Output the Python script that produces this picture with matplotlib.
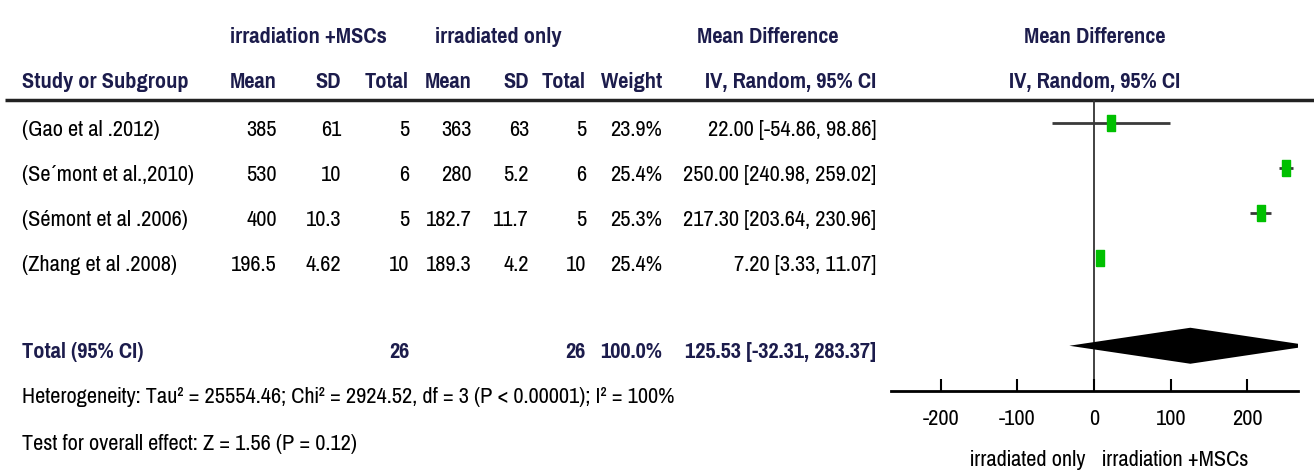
import numpy as np
import matplotlib
matplotlib.use('Agg')
from matplotlib import pyplot as plt
from matplotlib import font_manager

# narrow font if there is one, else a smaller Liberation Sans
try:
    font_manager.findfont('Pragati Narrow', fallback_to_default=False)
    plt.rcParams['font.family'] = ['Pragati Narrow', 'DejaVu Sans']
    fs = 17.5
except Exception:
    plt.rcParams['font.family'] = ['Liberation Sans', 'DejaVu Sans']
    fs = 12.8

studies = ["(Gao et al .2012)", "(Se\u00b4mont et al.,2010)", "(S\u00e9mont et al .2006)", "(Zhang et al .2008)"]
msc_mean = [385, 530, 400, 196.5]
msc_sd = [61, 10, 10.3, 4.62]
msc_n = [5, 6, 5, 10]
irr_mean = [363, 280, 182.7, 189.3]
irr_sd = [63, 5.2, 11.7, 4.2]
irr_n = [5, 6, 5, 10]
weights = [23.9, 25.4, 25.3, 25.4]
md = [22.00, 250.00, 217.30, 7.20]
ci_lo = [-54.86, 240.98, 203.64, 3.33]
ci_hi = [98.86, 259.02, 230.96, 11.07]

total_md, total_lo, total_hi = 125.53, -32.31, 283.37
total_n = [26, 26]
total_weight = "100.0%"
heterogeneity = "Heterogeneity: Tau\u00b2 = 25554.46; Chi\u00b2 = 2924.52, df = 3 (P < 0.00001); I\u00b2 = 100%"
overall = "Test for overall effect: Z = 1.56 (P = 0.12)"
xticks = [-200, -100, 0, 100, 200]

W, H = 1314, 475
head_color = '#1c1c4c'

fig = plt.figure(figsize=(W / 100, H / 100), dpi=100)

# text table, drawn in pixel coordinates
tab = fig.add_axes([0, 0, 1, 1])
tab.set_xlim(0, W)
tab.set_ylim(H, 0)
tab.axis('off')

row0, step = 123, 45
total_row = 4.95
def row_y(i):
    return row0 + step * i

# column right edges
cols = [277, 341, 409, 472, 529, 586, 662, 876]

# headers
hkw = dict(fontsize=fs, fontweight='bold', color=head_color, va='baseline')
tab.text(308, 43, "irradiation +MSCs", ha='center', **hkw)
tab.text(498, 43, "irradiated only", ha='center', **hkw)
tab.text(768, 43, "Mean Difference", ha='center', **hkw)
tab.text(1095, 43, "Mean Difference", ha='center', **hkw)
tab.text(22, 88, "Study or Subgroup", ha='left', **hkw)
for x, lab in zip(cols, ["Mean", "SD", "Total", "Mean", "SD", "Total", "Weight", "IV, Random, 95% CI"]):
    tab.text(x, 88, lab, ha='right', **hkw)
tab.text(1095, 88, "IV, Random, 95% CI", ha='center', **hkw)
tab.plot([5, W], [100, 100], color='#222222', lw=2.5, solid_capstyle='butt')

# study rows
for i in range(len(studies)):
    y = row_y(i) + 13
    vals = [msc_mean[i], msc_sd[i], msc_n[i], irr_mean[i], irr_sd[i], irr_n[i],
            f"{weights[i]:.1f}%", f"{md[i]:.2f} [{ci_lo[i]:.2f}, {ci_hi[i]:.2f}]"]
    tab.text(22, y, studies[i], ha='left', va='baseline', fontsize=fs)
    for x, v in zip(cols, vals):
        tab.text(x, y, str(v), ha='right', va='baseline', fontsize=fs)

# total row
y = row_y(total_row) + 12
tab.text(22, y, "Total (95% CI)", ha='left', **hkw)
tab.text(cols[2], y, str(total_n[0]), ha='right', **hkw)
tab.text(cols[5], y, str(total_n[1]), ha='right', **hkw)
tab.text(cols[6], y, total_weight, ha='right', **hkw)
tab.text(cols[7], y, f"{total_md:.2f} [{total_lo:.2f}, {total_hi:.2f}]", ha='right', **hkw)

tab.text(22, 403, heterogeneity, ha='left', va='baseline', fontsize=fs)
tab.text(22, 450, overall, ha='left', va='baseline', fontsize=fs)

# forest plot
px_l, px_r, px_t, px_b = 891, 1298, 100, 391
fax = fig.add_axes([px_l / W, (H - px_b) / H, (px_r - px_l) / W, (px_b - px_t) / H])
fax.patch.set_alpha(0)
fax.set_xlim(-265, 266)
fax.set_ylim((px_b - row0) / step, (px_t - row0) / step)

fax.axvline(0, color='#333333', lw=1.3, zorder=1)
rows = np.arange(len(studies))
fax.hlines(rows, ci_lo, ci_hi, color='#3a3a3a', lw=2, zorder=2)
box = [(-1, -2), (1, -2), (1, 2), (-1, 2), (-1, -2)]
for r, m, w in zip(rows, md, weights):
    fax.plot(m, r, marker=box, color='#00c000', markersize=11.5 * np.sqrt(w / 25.4),
             linestyle='none', zorder=3)

h = 0.4
fax.fill([total_lo, total_md, total_hi, total_md], [total_row, total_row - h, total_row, total_row + h],
         color='black', lw=0, zorder=3)

for s in ['top', 'left', 'right']:
    fax.spines[s].set_visible(False)
fax.spines['bottom'].set_linewidth(2)
fax.set_yticks([])
fax.set_xticks(xticks)
fax.set_xticklabels([str(t) for t in xticks])
fax.tick_params(axis='x', direction='in', length=8.5, width=1.5, labelsize=fs, pad=13)

tab.text(1085, 466, "irradiated only", ha='right', va='baseline', fontsize=fs)
tab.text(1102, 466, "irradiation +MSCs", ha='left', va='baseline', fontsize=fs)

plt.savefig('out.png', dpi=100)
